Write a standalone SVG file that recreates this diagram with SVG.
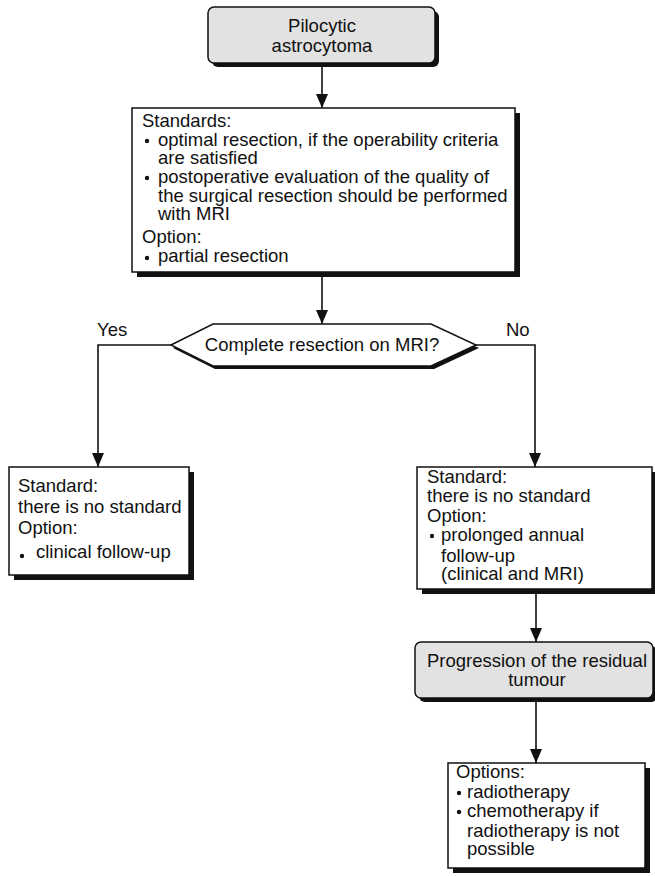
<svg xmlns="http://www.w3.org/2000/svg" width="655" height="876" viewBox="0 0 655 876">
<style>
text{font-family:"Liberation Sans",Arial,sans-serif;font-size:18.5px;fill:#111}
.box{fill:#fff;stroke:#111;stroke-width:1.5}
.gray{fill:#e2e2e2;stroke:#111;stroke-width:1.5}
.sh{fill:#111}
.c{text-anchor:middle}
.con{fill:none;stroke:#111;stroke-width:1.6}
</style>
<defs>
<marker id="ah" markerUnits="userSpaceOnUse" markerWidth="14" markerHeight="12" refX="14" refY="6" orient="auto">
<path d="M0,0 L14,6 L0,12 z" fill="#111"/>
</marker>
</defs>
<rect width="655" height="876" fill="#fff"/>
<g id="connectors">
<line class="con" x1="322" y1="66" x2="322" y2="108" marker-end="url(#ah)"/>
<line class="con" x1="322" y1="276" x2="322" y2="324" marker-end="url(#ah)"/>
<polyline class="con" points="171,345 98,345 98,467" marker-end="url(#ah)"/>
<polyline class="con" points="476,345 535,345 535,467" marker-end="url(#ah)"/>
<line class="con" x1="536" y1="593" x2="536" y2="642" marker-end="url(#ah)"/>
<line class="con" x1="536" y1="701" x2="536" y2="763" marker-end="url(#ah)"/>
<text x="97" y="336">Yes</text>
<text x="506" y="336">No</text>
</g>
<g id="n_pilocytic">
<rect class="sh" x="212" y="11" width="227" height="56" rx="6"/>
<rect class="gray" x="208" y="7" width="227" height="56" rx="6"/>
<text class="c" x="322" y="32">Pilocytic</text>
<text class="c" x="322" y="52">astrocytoma</text>
</g>
<g id="n_standards">
<rect class="sh" x="137" y="113" width="383" height="164"/>
<rect class="box" x="132" y="108" width="383" height="164"/>
<text x="142" y="127">Standards:</text>
<circle cx="147" cy="141" r="2.2" fill="#111"/>
<text x="158" y="146">optimal resection, if the operability criteria</text>
<text x="158" y="164">are satisfied</text>
<circle cx="147" cy="178" r="2.2" fill="#111"/>
<text x="158" y="183">postoperative evaluation of the quality of</text>
<text x="158" y="202">the surgical resection should be performed</text>
<text x="158" y="220">with MRI</text>
<text x="142" y="243">Option:</text>
<circle cx="147" cy="258" r="2.2" fill="#111"/>
<text x="158" y="262">partial resection</text>
</g>
<g id="n_decision">
<polygon class="sh" points="173,348 215,328 434,328 479,348 434,369 215,369"/>
<polygon class="box" points="171,345 213,324 431,324 476,345 431,366 213,366"/>
<text class="c" x="322" y="351">Complete resection on MRI?</text>
</g>
<g id="n_yes">
<rect class="sh" x="14" y="472" width="180" height="108"/>
<rect class="box" x="9" y="467" width="180" height="108"/>
<text x="18" y="492">Standard:</text>
<text x="18" y="513">there is no standard</text>
<text x="18" y="534">Option:</text>
<circle cx="22" cy="556" r="2.2" fill="#111"/>
<text x="36" y="558">clinical follow-up</text>
</g>
<g id="n_no">
<rect class="sh" x="422" y="472" width="235" height="122"/>
<rect class="box" x="417" y="467" width="235" height="122"/>
<text x="427" y="483">Standard:</text>
<text x="427" y="502">there is no standard</text>
<text x="427" y="522">Option:</text>
<circle cx="432" cy="536" r="2.2" fill="#111"/>
<text x="441" y="541">prolonged annual</text>
<text x="441" y="562">follow-up</text>
<text x="441" y="580">(clinical and MRI)</text>
</g>
<g id="n_progression">
<rect class="sh" x="419" y="646" width="238" height="56" rx="6"/>
<rect class="gray" x="415" y="642" width="238" height="56" rx="6"/>
<text class="c" x="537" y="667">Progression of the residual</text>
<text class="c" x="537" y="686">tumour</text>
</g>
<g id="n_options">
<rect class="sh" x="453" y="768" width="197" height="105"/>
<rect class="box" x="448" y="763" width="197" height="105"/>
<text x="456" y="778">Options:</text>
<circle cx="459" cy="793" r="2.2" fill="#111"/>
<text x="467" y="798">radiotherapy</text>
<circle cx="459" cy="812" r="2.2" fill="#111"/>
<text x="467" y="817">chemotherapy if</text>
<text x="467" y="837">radiotherapy is not</text>
<text x="467" y="855">possible</text>
</g>
</svg>
